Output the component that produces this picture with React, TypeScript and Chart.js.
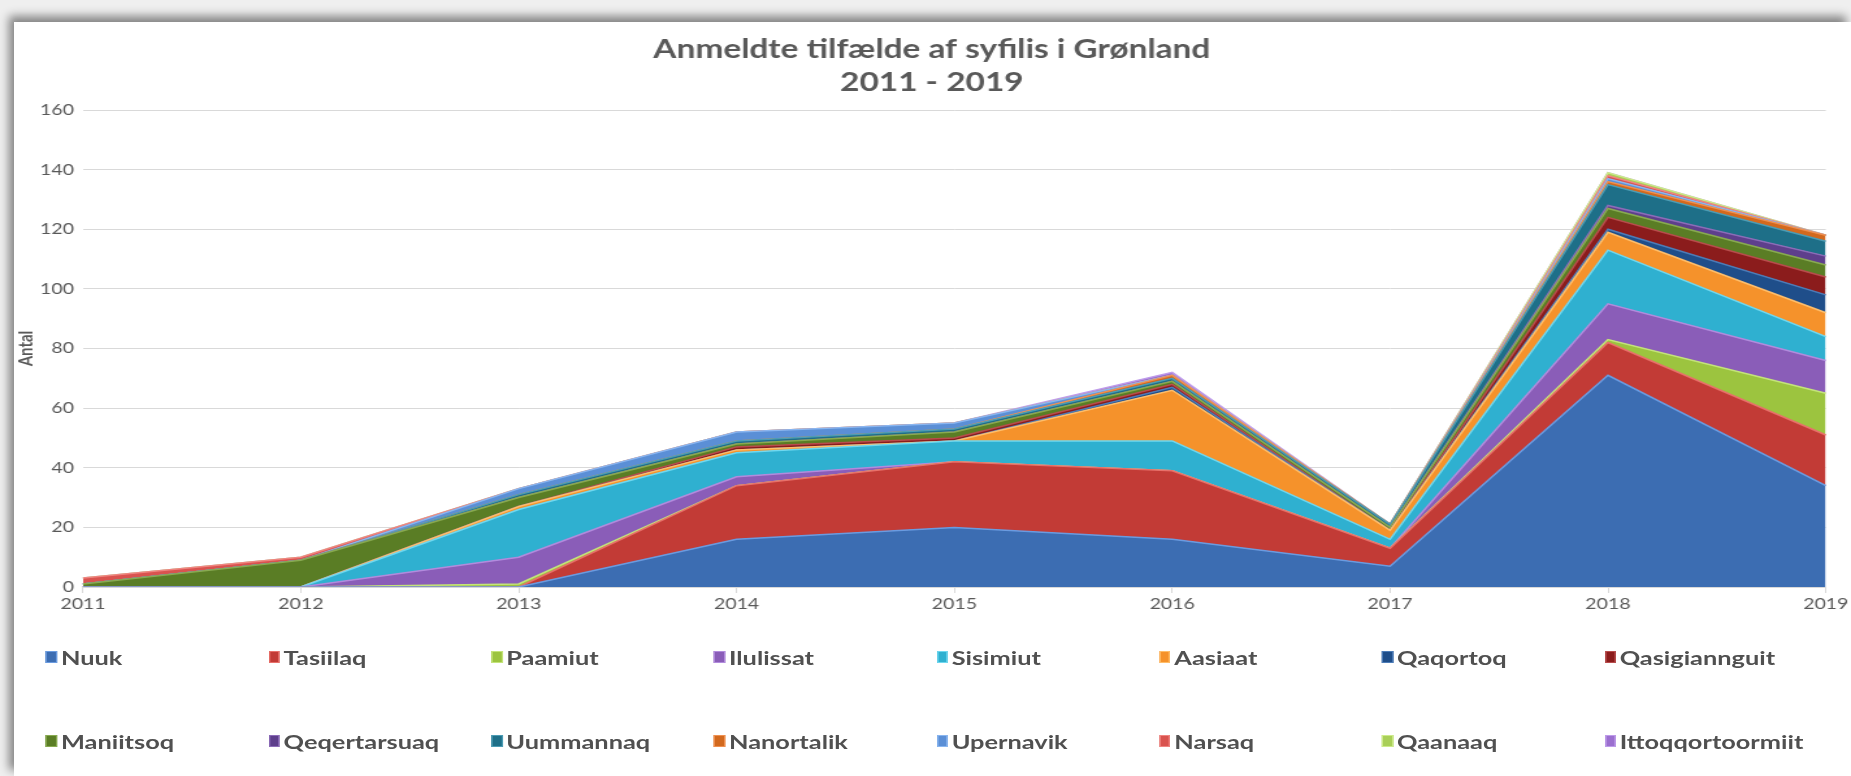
import React, { useEffect, useRef } from 'react';
import { Chart, registerables } from 'chart.js';

Chart.register(...registerables);

// ---- data ----
const years = ['2011', '2012', '2013', '2014', '2015', '2016', '2017', '2018', '2019'];

const nuuk = [0, 0, 0, 16, 20, 16, 7, 71, 34];
const tasiilaq = [0, 0, 0, 18, 22, 23, 6, 11, 17];
const paamiut = [0, 0, 1, 0, 0, 0, 0, 1, 14];
const ilulissat = [0, 0, 9, 3, 0, 0, 0, 12, 11];
const sisimiut = [0, 0, 16, 8, 7, 10, 3, 18, 8];
const aasiaat = [0, 0, 1, 1, 0, 17, 3, 6, 8];
const qaqortoq = [0, 0, 0, 0, 0, 1, 0, 1, 6];
const qasigiannguit = [0, 0, 0, 1, 1, 1, 0, 4, 6];
const maniitsoq = [1, 9, 3, 1, 2, 1, 1, 3, 4];
const qeqertarsuaq = [0, 0, 0, 0, 0, 0, 0, 1, 3];
const uummannaq = [0, 0, 1, 1, 1, 1, 1, 7, 5];
const nanortalik = [0, 0, 0, 0, 0, 1, 0, 1, 2];
const upernavik = [0, 0, 2, 3, 2, 0, 0, 1, 0];
const narsaq = [2, 1, 0, 0, 0, 0, 0, 1, 0];
const qaanaaq = [0, 0, 0, 0, 0, 0, 0, 1, 0];
const ittoqqortoormiit = [0, 0, 0, 0, 0, 1, 0, 0, 0];

const titleLines = ['Anmeldte tilfælde af syfilis i Grønland', '2011 - 2019'];
const yTitle = 'Antal';

const series = [
  { name: 'Nuuk', data: nuuk, color: '#3C6DB2', edge: '#6A9BE0' },
  { name: 'Tasiilaq', data: tasiilaq, color: '#C23B36', edge: '#E8706A' },
  { name: 'Paamiut', data: paamiut, color: '#9CC43F', edge: '#C4E47A' },
  { name: 'Ilulissat', data: ilulissat, color: '#8A5DB8', edge: '#B28BDD' },
  { name: 'Sisimiut', data: sisimiut, color: '#2FB0D0', edge: '#6FD8F0' },
  { name: 'Aasiaat', data: aasiaat, color: '#F5922B', edge: '#FFBE6A' },
  { name: 'Qaqortoq', data: qaqortoq, color: '#1F4E8A', edge: '#4C7CB8' },
  { name: 'Qasigiannguit', data: qasigiannguit, color: '#8B1C1C', edge: '#B84C4C' },
  { name: 'Maniitsoq', data: maniitsoq, color: '#5A7D25', edge: '#88AA50' },
  { name: 'Qeqertarsuaq', data: qeqertarsuaq, color: '#5E3F8C', edge: '#8C6CB8' },
  { name: 'Uummannaq', data: uummannaq, color: '#1E6F88', edge: '#4C9CB4' },
  { name: 'Nanortalik', data: nanortalik, color: '#D2691E', edge: '#F09050' },
  { name: 'Upernavik', data: upernavik, color: '#5B8FD6', edge: '#8AB6F0' },
  { name: 'Narsaq', data: narsaq, color: '#D9534F', edge: '#F08480' },
  { name: 'Qaanaaq', data: qaanaaq, color: '#A9CF58', edge: '#CDEB8A' },
  { name: 'Ittoqqortoormiit', data: ittoqqortoormiit, color: '#9B6FCF', edge: '#BE9BEA' },
];

// horizontal stretch of the reference picture
const K = 1.3;
const FULL_W = 1851;
const CW = Math.round(FULL_W / K);
const CH = 630;
const TXT = '#595959';
const SHIFT = 17.6; // moves the title centre right without moving the plot

export default function App() {
  const ref = useRef<HTMLCanvasElement>(null);

  useEffect(() => {
    if (!ref.current) return;
    const chart = new Chart(ref.current, {
      type: 'line',
      data: {
        labels: years,
        datasets: series.map((s, i) => ({
          label: s.name,
          data: s.data,
          backgroundColor: s.color,
          borderColor: s.edge,
          borderWidth: 1.5,
          pointRadius: 0,
          pointHoverRadius: 0,
          tension: 0,
          fill: i === 0 ? 'origin' : '-1',
        })),
      },
      options: {
        responsive: false,
        animation: false,
        layout: {
          padding: { left: 14 / K + SHIFT, top: 22, right: CW - 1827 / K, bottom: 13 },
        },
        plugins: {
          legend: { display: false },
          tooltip: { enabled: false },
          title: {
            display: true,
            text: titleLines,
            color: TXT,
            font: { family: 'Lato', size: 25.7, weight: 'bold', lineHeight: 1.285 },
            padding: { top: 11.5, bottom: 10.5 },
          },
        },
        scales: {
          x: {
            type: 'category',
            offset: false,
            grid: { drawOnChartArea: false, drawTicks: true, tickLength: 6, color: '#d9d9d9' },
            border: { color: '#d9d9d9' },
            ticks: {
              color: TXT,
              font: { family: 'Lato', size: 15 },
              padding: 2,
              maxRotation: 0,
              autoSkip: false,
            },
            afterFit: (s: any) => {
              s.height = 30;
            },
          },
          y: {
            stacked: true,
            min: 0,
            max: 160,
            ticks: {
              stepSize: 20,
              color: TXT,
              font: { family: 'Lato', size: 15 },
              padding: 7,
            },
            grid: { color: '#d9d9d9', drawTicks: false },
            border: { display: false },
            title: {
              display: true,
              text: yTitle,
              color: TXT,
              font: { family: 'Lato', size: 15, weight: 'bold' },
              padding: { top: -SHIFT, bottom: 0 },
            },
            afterFit: (s: any) => {
              s.width = 69 / K - SHIFT;
            },
          },
        },
      },
    });
    return () => chart.destroy();
  }, []);

  const rows = [series.slice(0, 8), series.slice(8, 16)];
  const rowY = [657, 741];

  return (
    <div
      style={{
        position: 'absolute',
        left: 0,
        top: 0,
        width: FULL_W,
        height: 776,
        background: '#efefef',
        overflow: 'hidden',
      }}
    >
      <div
        style={{
          position: 'absolute',
          left: 14,
          top: 22,
          width: FULL_W - 14,
          height: 776 - 22,
          background: '#ffffff',
          boxShadow: '-5px -6px 9px rgba(0,0,0,0.45)',
        }}
      />
      <div
        style={{
          position: 'absolute',
          left: 0,
          top: 0,
          width: CW,
          height: 776,
          transform: `scaleX(${FULL_W / CW})`,
          transformOrigin: '0 0',
        }}
      >
        <canvas
          ref={ref}
          width={CW}
          height={CH}
          style={{ position: 'absolute', left: 0, top: 0, width: CW, height: CH }}
        />
        {rows.map((row, r) =>
          row.map((s, c) => (
            <div
              key={s.name}
              style={{
                position: 'absolute',
                left: (46 + c * 222.7) / K,
                top: rowY[r] - 13,
                height: 26,
                display: 'flex',
                alignItems: 'center',
                whiteSpace: 'nowrap',
                fontFamily: 'Lato',
                fontWeight: 700,
                fontSize: 19.5,
                color: '#505050',
              }}
            >
              <span
                style={{
                  display: 'inline-block',
                  width: 8.5,
                  height: 12,
                  background: s.color,
                  border: `1px solid ${s.edge}`,
                  boxSizing: 'border-box',
                  marginRight: 3,
                }}
              />
              <span>{s.name}</span>
            </div>
          ))
        )}
      </div>
    </div>
  );
}
